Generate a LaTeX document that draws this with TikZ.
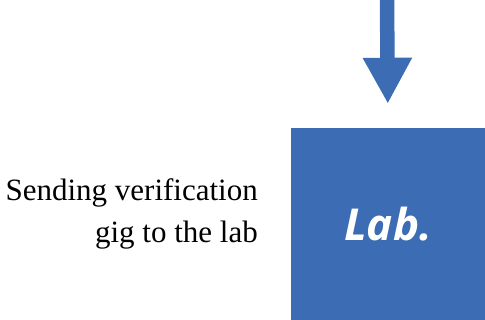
\documentclass[tikz,border=0pt]{standalone}
\usepackage{fontspec}
\setmainfont{Liberation Serif}
\newfontfamily\labfont{Open Sans}
\usetikzlibrary{arrows.meta}

\definecolor{labblue}{RGB}{59,108,180}

\begin{document}
\begin{tikzpicture}[x=1pt,y=1pt,
    labbox/.style={fill=labblue, minimum width=194pt, minimum height=192pt, inner sep=0pt,
      text=white, font=\labfont\fontsize{44}{50}\selectfont\bfseries\itshape},
    note/.style={align=right, inner sep=0pt, font=\fontsize{31}{42}\selectfont},
    sendarrow/.style={draw=labblue, line width=14.5pt,
      -{Triangle[width=46pt,length=46pt]}, shorten >=24pt}]
  \useasboundingbox (0,0) rectangle (485,320);
  % the lab box
  \node[labbox] (lab) at (388,96) {Lab.};
  % text left of the box
  \node[note, anchor=east] (send) at (258,106) {Sending verification\\gig to the lab};
  % arrow coming down into the box
  \coordinate (in) at (387,320);
  \draw[sendarrow] (in) -- (lab.north);
\end{tikzpicture}
\end{document}
